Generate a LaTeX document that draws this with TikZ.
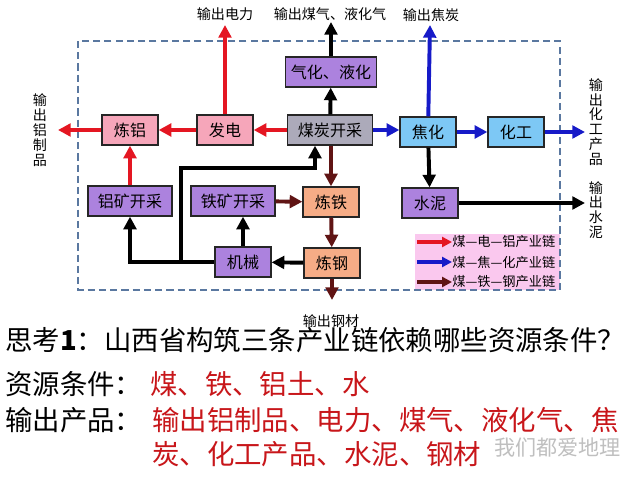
\documentclass[tikz,border=0pt]{standalone}
\usepackage{fontspec}
\setmainfont{Noto Sans CJK SC}
\usepackage{tikz}
\usepackage{xcolor}
\usetikzlibrary{arrows.meta}
\definecolor{boxpink}{RGB}{246,166,186}
\definecolor{boxgrey}{RGB}{172,170,186}
\definecolor{boxpurple}{RGB}{172,130,222}
\definecolor{boxblue}{RGB}{125,200,245}
\definecolor{boxorange}{RGB}{246,172,134}
\definecolor{legpink}{RGB}{250,200,238}
\definecolor{chainred}{RGB}{228,22,34}
\definecolor{chainblue}{RGB}{22,26,200}
\definecolor{chainbrown}{RGB}{96,20,20}
\definecolor{framedash}{RGB}{90,120,160}
\definecolor{textred}{RGB}{200,22,26}

\begin{document}
\begin{tikzpicture}[x=0.025cm,y=-0.025cm,
  every node/.style={font=\fontsize{11.4}{13}\selectfont},
  box/.style={draw=black!85,line width=0.9pt,minimum height=0.75cm,minimum width=1.4cm,inner sep=1pt},
  flow/.style={line width=2.8pt,-{Triangle[length=9pt,width=9pt]}},
  legflow/.style={line width=2.4pt,-{Triangle[length=7pt,width=7pt]}},
  outlbl/.style={font=\fontsize{10}{10.6}\selectfont,align=center,inner sep=0pt},
  bigtxt/.style={font=\fontsize{19.5}{22}\selectfont,anchor=west,inner sep=0pt}]
\useasboundingbox (0,0) rectangle (640,480);
\fill[white] (0,0) rectangle (640,480);

\fill[legpink] (415,234) rectangle (560,290);
\draw[framedash,line width=1pt,dash pattern=on 5pt off 3pt] (78,41) rectangle (560,290);

\node[box,fill=boxpink] (lianlv) at (130,130) {炼铝};
\node[box,fill=boxpink] (fadian) at (225,130) {发电};
\node[box,fill=boxgrey,minimum width=2.125cm] (meitan) at (330,130) {煤炭开采};
\node[box,fill=boxpurple,minimum width=2.275cm] (qihua) at (331,72) {气化、液化};
\node[box,fill=boxblue] (jiaohua) at (428,132) {焦化};
\node[box,fill=boxblue] (huagong) at (516,132) {化工};
\node[box,fill=boxpurple,minimum width=2.1cm] (lvkuang) at (130,201) {铝矿开采};
\node[box,fill=boxpurple,minimum width=2.1cm] (tiekuang) at (233,201) {铁矿开采};
\node[box,fill=boxorange] (liantie) at (331,202) {炼铁};
\node[box,fill=boxpurple] (shuini) at (430,203) {水泥};
\node[box,fill=boxpurple] (jixie) at (243,262) {机械};
\node[box,fill=boxorange] (liangang) at (332,263) {炼钢};

\node[outlbl] (outdian) at (225,14) {输出电力};
\node[outlbl] (outqi) at (330,14) {输出煤气、液化气};
\node[outlbl] (outtan) at (431,15) {输出焦炭};
\node[outlbl] (outlv) at (40,130) {输\\出\\铝\\制\\品};
\node[outlbl] (outhua) at (596,122) {输\\出\\化\\工\\产\\品};
\node[outlbl] (outni) at (596,210) {输\\出\\水\\泥};
\node[outlbl] (outgang) at (331,321) {输出钢材};

\coordinate (enddian) at (225,25);
\coordinate (endqi) at (331,22);
\coordinate (endtan) at (430,25);
\coordinate (endlv) at (58,130);
\coordinate (endhua) at (585,132);
\coordinate (endni) at (585,203);
\coordinate (endgang) at (332,300);

\draw[flow,chainred] (meitan) -- (fadian);
\draw[flow,chainred] (fadian) -- (lianlv);
\draw[flow,chainred] (lianlv) -- (endlv);
\draw[flow,chainred] (fadian) -- (enddian);
\draw[flow,chainred] (lvkuang) -- (lianlv);

\draw[flow,black] (meitan) -- (qihua);
\draw[flow,black] (qihua) -- (endqi);

\draw[flow,chainblue] (meitan.east) -- (jiaohua.west |- meitan.east);
\draw[flow,chainblue] (jiaohua) -- (huagong);
\draw[flow,chainblue] (huagong) -- (endhua);
\draw[flow,chainblue] (jiaohua) -- (endtan);

\draw[flow,black] (jiaohua) -- (shuini);
\draw[flow,black] (shuini) -- (endni);

\draw[flow,chainbrown] (meitan.south -| liantie) -- (liantie);
\draw[flow,chainbrown] (tiekuang) -- (liantie);
\draw[flow,chainbrown] (liantie) -- (liangang);
\draw[flow,chainbrown] (liangang) -- (endgang);

\draw[flow,black] (liangang) -- (jixie);
\draw[flow,black] (jixie) -- (jixie |- tiekuang.south);
\draw[flow,black] (jixie.west) -| (lvkuang.south);
\coordinate (branch) at (181,262);
\coordinate (turn) at (315,168);
\draw[flow,black] (branch) |- (turn) -- (turn |- meitan.south);

\foreach \c/\t/\y [count=\i] in {chainred/煤—电—铝产业链/242,chainblue/煤—焦—化产业链/262,chainbrown/煤—铁—钢产业链/282}{
  \coordinate (leg\i) at (417,\y);
  \node[anchor=west,inner sep=0pt,font=\fontsize{9.4}{11}\selectfont] (legtxt\i) at (452,\y) {\t};
  \draw[legflow,\c] (leg\i) -- (legtxt\i.west);
}

\node[bigtxt] (ask) at (5,340) {思考\textbf{1}：山西省构筑三条产业链依赖哪些资源条件？};
\node[bigtxt] (res) at (5,384) {资源条件：};
\node[bigtxt,textred] (resval) at (150,384) {煤、铁、铝土、水};
\node[bigtxt] (prod) at (5,420) {输出产品：};
\node[bigtxt,textred] (prodval) at (152,420) {输出铝制品、电力、煤气、液化气、焦};
\node[bigtxt,textred] (prodval2) at (152,454) {炭、化工产品、水泥、钢材};
\node[anchor=west,inner sep=0pt,text=black!25,font=\fontsize{15}{17}\selectfont] (mark) at (494,448) {我们都爱地理};
\end{tikzpicture}
\end{document}
